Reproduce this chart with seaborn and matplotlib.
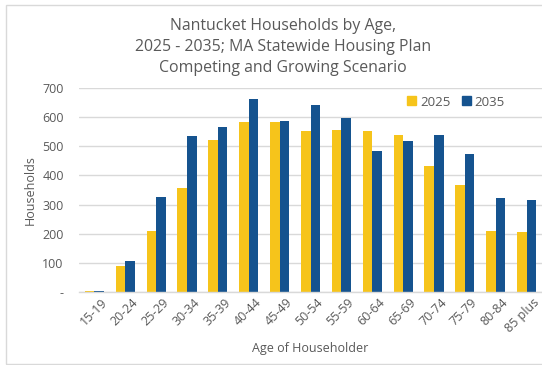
import matplotlib
matplotlib.use("Agg")
import matplotlib.pyplot as plt
import matplotlib.transforms as mtransforms
from matplotlib.patches import Rectangle
import seaborn as sns
import pandas as pd

ages = ["15-19", "20-24", "25-29", "30-34", "35-39", "40-44", "45-49", "50-54",
        "55-59", "60-64", "65-69", "70-74", "75-79", "80-84", "85 plus"]
hh_2025 = [3, 90, 209, 358, 522, 584, 584, 554, 556, 554, 538, 431, 367, 209, 206]
hh_2035 = [4, 108, 326, 536, 567, 662, 588, 643, 597, 484, 517, 540, 475, 321, 315]
series = ["2025", "2035"]
yticks = [0, 100, 200, 300, 400, 500, 600, 700]
ytick_labels = ["-", "100", "200", "300", "400", "500", "600", "700"]

df = pd.DataFrame({
    "Age": ages * 2,
    "Year": [series[0]] * len(ages) + [series[1]] * len(ages),
    "Households": hh_2025 + hh_2035,
})

sns.set_theme(style="white")
plt.rcParams["font.family"] = ["Open Sans", "DejaVu Sans"]
TXT = "#595959"

fig = plt.figure(figsize=(5.42, 3.65), dpi=100)
# outer chart frame
fig.patches.append(Rectangle((6 / 542, 1 / 365), 540 / 542, 359 / 365,
                             transform=fig.transFigure, fill=False,
                             edgecolor="#D9D9D9", linewidth=1.0))
ax = fig.add_axes([79 / 542, (365 - 292) / 365, (542 - 79) / 542, 204 / 365])

palette = {"2025": "#F6C41B", "2035": "#15538F"}
sns.barplot(data=df, x="Age", y="Households", hue="Year", order=ages,
            hue_order=series, palette=palette, width=0.62, gap=0,
            saturation=1, ax=ax, legend=False, linewidth=0)

ax.set_ylim(0, 700)
ax.set_xlim(-0.5, len(ages) - 0.5)
ax.set_yticks(yticks)
ax.set_yticklabels(ytick_labels, color=TXT, fontsize=9)
ax.yaxis.grid(True, color="#D9D9D9", linewidth=1.0)
ax.set_axisbelow(True)
for s in ["top", "right", "left"]:
    ax.spines[s].set_visible(False)
ax.spines["bottom"].set_color("#D9D9D9")
ax.spines["bottom"].set_linewidth(1.0)
ax.tick_params(axis="y", length=0, pad=11)
ax.tick_params(axis="x", length=0, pad=3)

ax.set_xticks(range(len(ages)))
ax.set_xticklabels(ages, rotation=45, ha="right", rotation_mode="anchor",
                   color=TXT, fontsize=9)
offset = mtransforms.ScaledTranslation(6 / 100, 0, fig.dpi_scale_trans)
for lab in ax.get_xticklabels():
    lab.set_transform(lab.get_transform() + offset)

ax.set_xlabel("Age of Householder", color=TXT, fontsize=9, labelpad=5)
ax.set_ylabel("Households", color=TXT, fontsize=9, labelpad=4)

fig.text(283 / 542, 1 - 47 / 365,
         "Nantucket Households by Age,\n2025 - 2035; MA Statewide Housing Plan\nCompeting and Growing Scenario",
         ha="center", va="center", fontsize=11.4, color=TXT, linespacing=1.4)

handles = [Rectangle((0, 0), 1, 1, color=palette[s]) for s in series]
ax.legend(handles, series, loc="center right", bbox_to_anchor=(505 / 542, 1 - 102 / 365),
          bbox_transform=fig.transFigure, ncol=2, frameon=False, fontsize=9.5,
          handlelength=0.65, handleheight=0.65, handletextpad=0.3, columnspacing=0.9,
          labelcolor=TXT, borderaxespad=0, borderpad=0)

fig.savefig("out.png", dpi=100)
